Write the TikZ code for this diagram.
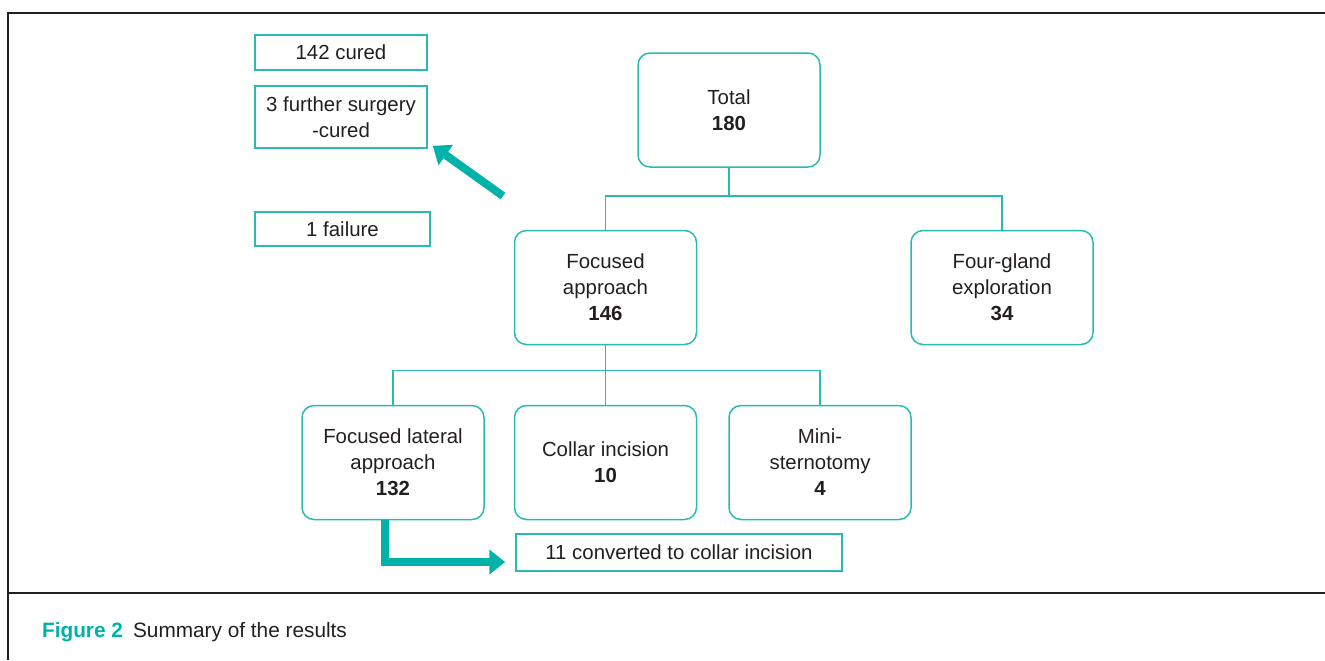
\documentclass[tikz,border=0pt]{standalone}
\usepackage{fontspec}
\setmainfont{Liberation Sans}
\usetikzlibrary{arrows.meta}
\definecolor{flowteal}{RGB}{0,178,169}
\definecolor{boxline}{RGB}{38,188,178}
\definecolor{ink}{RGB}{35,31,32}
\begin{document}
\begin{tikzpicture}[x=0.5pt, y=-0.5pt,
    grp/.style={rectangle, draw=boxline, line width=0.75pt, rounded corners=6pt,
                minimum width=91pt, minimum height=57pt, align=center, text=ink,
                font=\fontsize{10.2}{13}\selectfont},
    note/.style={rectangle, draw=boxline, line width=0.75pt, inner sep=0pt,
                 align=center, text=ink, font=\fontsize{10.2}{13}\selectfont},
    link/.style={draw=boxline, line width=0.75pt},
    bigarrow/.style={draw=flowteal, line width=4pt, -{Triangle[length=8pt, width=12pt]}},
    frame/.style={draw=ink, line width=1pt}
]
    \useasboundingbox (0,0) rectangle (1325,660);
    \draw[frame] (1325,13) -| (8,660);
    \draw[frame] (8,593) -- (1325,593);

    \node[grp] (total) at (729,110) {Total\\\textbf{180}};
    \node[grp] (focus) at (605.5,287.5) {Focused\\approach\\\textbf{146}};
    \node[grp] (four) at (1002,287.5) {Four-gland\\exploration\\\textbf{34}};
    \node[grp] (lat) at (393,462.5) {Focused lateral\\approach\\\textbf{132}};
    \node[grp] (collar) at (605.5,462.5) {Collar incision\\\textbf{10}};
    \node[grp] (mini) at (820,462.5) {Mini-\\sternotomy\\\textbf{4}};

    \node[note, minimum width=86pt, minimum height=17.5pt] (cured) at (341,52.5) {142 cured};
    \node[note, minimum width=86pt, minimum height=31pt] (surg) at (341,117) {3 further surgery\\-cured};
    \node[note, minimum width=87.5pt, minimum height=17pt] (fail) at (342.5,229) {1 failure};
    \node[note, minimum width=163pt, minimum height=18.5pt] (conv) at (679,552.5) {11 converted to collar incision};

    \draw[link] (total.south) -- ++(0,28) -| (focus.north);
    \draw[link] (total.south) -- ++(0,28) -| (four.north);
    \draw[link] (focus.south) -- ++(0,25) -| (lat.north);
    \draw[link] (focus.south) -- (collar.north);
    \draw[link] (focus.south) -- ++(0,25) -| (mini.north);

    \coordinate (src) at (503,196);
    \coordinate (turn) at (385,562);
    \draw[bigarrow] (src) -- ([shift={(5,-3)}]surg.south east);
    \draw[bigarrow] (lat.south -| turn) |- ([xshift=-5]conv.west |- turn);

    \node[anchor=base west, text=flowteal, font=\fontsize{10.4}{13}\selectfont\bfseries] (figlbl) at (35,637) {Figure 2};
    \node[anchor=base west, text=ink, font=\fontsize{10.4}{13}\selectfont] (figcap) at (126,637) {Summary of the results};
\end{tikzpicture}
\end{document}
